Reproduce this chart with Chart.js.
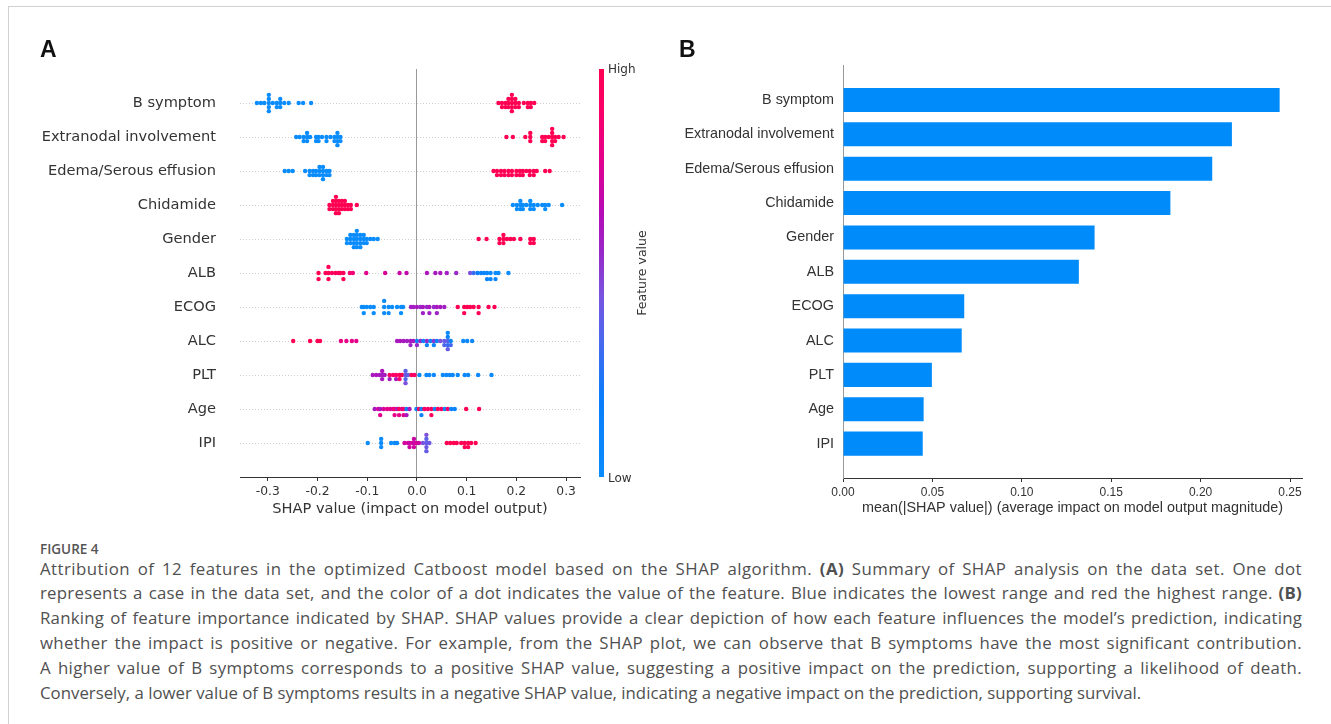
<!DOCTYPE html>
<html>
<head>
<meta charset="utf-8">
<script src="https://cdn.jsdelivr.net/npm/chart.js@4.4.1/dist/chart.umd.min.js"></script>
<style>
  html, body { margin: 0; padding: 0; background: #fff; overflow: hidden; }
  body { width: 1331px; height: 724px; position: relative; }
  .frame { position: absolute; left: 8px; top: 6px; width: 1400px; height: 800px;
           border-left: 1px solid #d0d0d0; border-top: 1px solid #d0d0d0; }
  .panel { position: absolute; top: 37.5px; font-family: "Liberation Sans", Arial, sans-serif;
           font-weight: bold; font-size: 23px; line-height: 23px; color: #111; }
  #chartA { position: absolute; left: 0; top: 0; }
  #chartB { position: absolute; left: 660px; top: 0; }
  .caption { position: absolute; left: 40px; top: 539px; width: 1262px;
             font-family: "Open Sans", sans-serif; color: #505050; }
  .fig { font-size: 13.5px; font-weight: 600; line-height: 20px; height: 17.6px; color: #555; }
  .text { font-size: 16px; }
  .line { height: 24.8px; line-height: 24.8px; white-space: nowrap; }
  .line b { font-weight: 700; }
</style>
</head>
<body>
<div class="frame"></div>
<canvas id="chartA" width="690" height="530"></canvas>
<canvas id="chartB" width="671" height="530"></canvas>
<div class="panel" style="left:40px">A</div>
<div class="panel" style="left:679px">B</div>

<div class="caption">
  <div class="fig">FIGURE 4</div>
  <div class="text">
    <div class="line"><span>Attribution of 12 features in the optimized Catboost model based on the SHAP algorithm. <b>(A)</b> Summary of SHAP analysis on the data set. One dot</span></div>
    <div class="line"><span>represents a case in the data set, and the color of a dot indicates the value of the feature. Blue indicates the lowest range and red the highest range. <b>(B)</b></span></div>
    <div class="line"><span>Ranking of feature importance indicated by SHAP. SHAP values provide a clear depiction of how each feature influences the model’s prediction, indicating</span></div>
    <div class="line"><span>whether the impact is positive or negative. For example, from the SHAP plot, we can observe that B symptoms have the most significant contribution.</span></div>
    <div class="line"><span>A higher value of B symptoms corresponds to a positive SHAP value, suggesting a positive impact on the prediction, supporting a likelihood of death.</span></div>
    <div class="line"><span>Conversely, a lower value of B symptoms results in a negative SHAP value, indicating a negative impact on the prediction, supporting survival.</span></div>
  </div>
</div>

<script>
// features, top to bottom
const features = ["B symptom", "Extranodal involvement", "Edema/Serous effusion", "Chidamide", "Gender",
  "ALB", "ECOG", "ALC", "PLT", "Age", "IPI"];

// mean(|SHAP value|) per feature (panel B)
const meanAbsShap = [0.2442, 0.2175, 0.2065, 0.1831, 0.1407, 0.1319, 0.0678, 0.0664, 0.0497, 0.0451, 0.0446];

const xTicksA = [-0.3, -0.2, -0.1, 0, 0.1, 0.2, 0.3];
const xTickLabelsA = ["-0.3", "-0.2", "-0.1", "0.0", "0.1", "0.2", "0.3"];
const xTicksB = [0, 0.05, 0.10, 0.15, 0.20, 0.25];
const xTickLabelsB = ["0.00", "0.05", "0.10", "0.15", "0.20", "0.25"];

// panel A: one [SHAP value, scaled feature value 0..1] per case
const bSymptom = [[-0.322,0],[-0.314,0],[-0.307,0],[-0.298,0],[-0.298,0],[-0.298,0],[-0.298,0],[-0.298,0],[-0.290,0],
  [-0.282,0],[-0.282,0],[-0.275,0],[-0.275,0],[-0.275,0],[-0.267,0],[-0.258,0],[-0.238,0],[-0.229,0],[-0.213,0],
  [0.164,1],[0.171,1],[0.171,1],[0.178,1],[0.178,1],[0.184,1],[0.184,1],[0.184,1],[0.191,1],[0.191,1],[0.191,1],
  [0.191,1],[0.191,1],[0.198,1],[0.198,1],[0.198,1],[0.205,1],[0.205,1],[0.215,1],[0.223,1],[0.223,1],[0.229,1],
  [0.229,1],[0.236,1]];
const extranodal = [[-0.243,0],[-0.236,0],[-0.228,0],[-0.228,0],[-0.221,0],[-0.221,0],[-0.221,0],[-0.215,0],
  [-0.203,0],[-0.203,0],[-0.198,0],[-0.198,0],[-0.191,0],[-0.182,0],[-0.182,0],[-0.174,0],[-0.166,0],[-0.166,0],
  [-0.160,0],[-0.160,0],[-0.160,0],[-0.160,0],[-0.154,0],[-0.154,0],
  [0.180,1],[0.193,1],[0.218,1],[0.228,1],[0.228,1],[0.228,1],[0.252,1],[0.252,1],[0.258,1],[0.258,1],[0.265,1],
  [0.272,1],[0.272,1],[0.272,1],[0.272,1],[0.272,1],[0.278,1],[0.278,1],[0.285,1],[0.295,1]];
const edema = [[-0.266,0],[-0.258,0],[-0.250,0],[-0.225,0],[-0.216,0],[-0.216,0],[-0.209,0],[-0.209,0],[-0.203,0],
  [-0.203,0],[-0.196,0],[-0.196,0],[-0.196,0],[-0.189,0],[-0.189,0],[-0.189,0],[-0.189,0],[-0.182,0],[-0.182,0],
  [-0.176,0],[-0.176,0],
  [0.154,1],[0.161,1],[0.161,1],[0.169,1],[0.169,1],[0.176,1],[0.176,1],[0.184,1],[0.184,1],[0.191,1],[0.191,1],
  [0.200,1],[0.200,1],[0.207,1],[0.207,1],[0.213,1],[0.213,1],[0.220,1],[0.227,1],[0.227,1],[0.235,1],[0.235,1],
  [0.241,1],[0.258,1],[0.267,1]];
const chidamide = [[-0.176,1],[-0.176,1],[-0.169,1],[-0.169,1],[-0.169,1],[-0.163,1],[-0.163,1],[-0.163,1],
  [-0.163,1],[-0.163,1],[-0.157,1],[-0.157,1],[-0.157,1],[-0.157,1],[-0.151,1],[-0.151,1],[-0.151,1],[-0.145,1],
  [-0.145,1],[-0.145,1],[-0.139,1],[-0.139,1],[-0.133,1],[-0.133,1],[-0.121,1],
  [0.193,0],[0.201,0],[0.201,0],[0.208,0],[0.208,0],[0.208,0],[0.213,0],[0.213,0],[0.220,0],[0.228,0],[0.228,0],
  [0.228,0],[0.235,0],[0.235,0],[0.243,0],[0.252,0],[0.258,0],[0.258,0],[0.265,0],[0.292,0]];
const gender = [[-0.141,0],[-0.141,0],[-0.134,0],[-0.134,0],[-0.134,0],[-0.127,0],[-0.127,0],[-0.127,0],[-0.127,0],
  [-0.121,0],[-0.121,0],[-0.121,0],[-0.121,0],[-0.121,0],[-0.114,0],[-0.114,0],[-0.114,0],[-0.114,0],[-0.107,0],
  [-0.107,0],[-0.107,0],[-0.101,0],[-0.101,0],[-0.094,0],[-0.087,0],[-0.079,0],
  [0.124,1],[0.140,1],[0.166,1],[0.166,1],[0.174,1],[0.174,1],[0.174,1],[0.181,1],[0.188,1],[0.195,1],[0.208,1],
  [0.228,1],[0.228,1],[0.235,1],[0.235,1]];
const alb = [[-0.198,1],[-0.198,1],[-0.184,0.95],[-0.178,1],[-0.178,1],[-0.178,1],[-0.171,0.95],[-0.164,1],
  [-0.158,0.92],[-0.154,1],[-0.148,0.95],[-0.148,1],[-0.135,0.88],[-0.129,0.85],[-0.102,0.78],[-0.064,0.74],
  [-0.035,0.7],[-0.021,0.68],[0.020,0.62],[0.037,0.6],[0.047,0.6],[0.060,0.58],[0.079,0.55],[0.107,0.45],
  [0.114,0.3],[0.122,0.2],[0.129,0.12],[0.135,0.08],[0.141,0.05],[0.141,0.1],[0.148,0.02],[0.148,0.05],
  [0.158,0],[0.158,0.08],[0.164,0],[0.184,0]];
const ecog = [[-0.111,0],[-0.107,0],[-0.107,0],[-0.101,0],[-0.094,0],[-0.087,0],[-0.087,0],[-0.066,0],[-0.066,0],
  [-0.066,0],[-0.057,0],[-0.057,0],[-0.050,0],[-0.040,0],[-0.032,0],[-0.032,0],[-0.028,0],
  [-0.012,0.6],[-0.007,0.58],[0.000,0.6],[0.007,0.55],[0.012,0.6],[0.012,0.58],[0.020,0.55],[0.025,0.6],
  [0.025,0.58],[0.034,0.55],[0.040,0.6],[0.040,0.57],[0.047,0.6],[0.055,0.58],
  [0.082,1],[0.095,1],[0.095,1],[0.101,1],[0.107,1],[0.114,1],[0.124,1],[0.124,1],[0.144,1],[0.156,1]];
const alc = [[-0.249,1],[-0.215,1],[-0.200,1],[-0.195,1],[-0.153,0.82],[-0.142,0.8],[-0.131,0.8],[-0.122,0.78],
  [-0.040,0.6],[-0.034,0.62],[-0.027,0.6],[-0.020,0.58],[-0.013,0.6],[-0.013,0.55],[-0.007,0.6],[0.000,0.08],
  [0.000,0.55],[0.007,0.55],[0.013,0.08],[0.020,0.55],[0.020,0.08],[0.027,0.1],[0.034,0.52],[0.034,0.08],
  [0.040,0.1],[0.047,0.45],[0.055,0.4],[0.055,0.35],[0.062,0.38],[0.062,0.3],[0.062,0.1],[0.062,0.4],
  [0.062,0.05],[0.068,0.1],[0.068,0.32],[0.093,0.05],[0.101,0.05],[0.111,0.05]];
const plt = [[-0.089,0.6],[-0.082,0.62],[-0.075,0.6],[-0.070,0.58],[-0.070,0.6],[-0.070,0.62],[-0.065,0.6],
  [-0.055,0.95],[-0.055,0.6],[-0.048,0.9],[-0.042,0.95],[-0.042,0.6],[-0.035,0.95],[-0.035,0.9],[-0.030,1],
  [-0.023,0.4],[-0.023,0.35],[-0.023,0.38],[-0.023,0.45],[-0.018,0.4],[-0.011,0.95],[-0.005,0.9],
  [0.005,0.05],[0.019,0.05],[0.025,0.05],[0.034,0.05],[0.052,0.05],[0.059,0.05],[0.066,0.05],[0.072,0.05],
  [0.082,0.05],[0.096,0.05],[0.103,0.05],[0.123,0.05],[0.150,0.05]];
const age = [[-0.085,0.6],[-0.078,0.75],[-0.074,0.6],[-0.074,0.78],[-0.067,0.75],[-0.060,0.8],[-0.054,0.78],
  [-0.048,0.75],[-0.045,0.9],[-0.045,0.8],[-0.040,0.6],[-0.036,0.95],[-0.036,0.8],[-0.030,0.75],[-0.027,0.9],
  [-0.027,0.78],[-0.021,0.1],[-0.021,0.6],[-0.015,0.6],[-0.001,0.1],[0.004,0.95],[0.009,0.1],[0.009,0.1],
  [0.015,0.95],[0.022,0.9],[0.029,0.95],[0.029,0.95],[0.036,0.1],[0.042,0.95],[0.049,0.95],[0.056,0.1],
  [0.062,0.9],[0.069,0.1],[0.076,0.1],[0.099,1],[0.125,1]];
const ipi = [[-0.099,0],[-0.072,0],[-0.072,0],[-0.072,0],[-0.052,0],[-0.045,0],[-0.040,0.05],[-0.025,0.72],
  [-0.018,0.75],[-0.015,0.7],[-0.015,0.72],[-0.009,0.75],[-0.006,0.7],[-0.006,0.72],[-0.006,0.7],[-0.001,0.75],
  [0.004,0.7],[0.012,0.45],[0.019,0.4],[0.019,0.42],[0.019,0.38],[0.019,0.4],[0.019,0.45],[0.025,0.42],
  [0.060,1],[0.067,1],[0.074,1],[0.080,1],[0.089,1],[0.096,1],[0.096,1],[0.103,1],[0.103,1],[0.109,1],[0.118,1]];

const rowsA = [bSymptom, extranodal, edema, chidamide, gender, alb, ecog, alc, plt, age, ipi];

// blue -> purple -> red, like shap's colour map
const colorStops = [
  [0.00, [10, 140, 252]], [0.20, [10, 124, 250]], [0.35, [80, 102, 236]], [0.45, [122, 82, 222]],
  [0.55, [152, 40, 200]], [0.65, [182, 10, 182]], [0.78, [228, 0, 140]], [0.90, [250, 0, 104]],
  [1.00, [255, 0, 82]]
];

function featureColor(t) {
  for (let i = 1; i < colorStops.length; i++) {
    const [t1, c1] = colorStops[i];
    const [t0, c0] = colorStops[i - 1];
    if (t <= t1) {
      const f = (t - t0) / (t1 - t0);
      return "rgb(" + c0.map((c, k) => Math.round(c + (c1[k] - c) * f)).join(",") + ")";
    }
  }
  return "rgb(255,0,82)";
}

// beeswarm offsets, same binning idea as shap's summary plot
function swarm(vals) {
  const lo = Math.min(...vals), hi = Math.max(...vals);
  const quant = vals.map(v => Math.round(100 * (v - lo) / (hi - lo + 1e-8)));
  const order = vals.map((_, k) => k).sort((a, b) => quant[a] - quant[b] || a - b);
  const ys = new Array(vals.length).fill(0);
  let layer = 0, last = -1;
  order.forEach(k => {
    if (quant[k] !== last) layer = 0;
    ys[k] = Math.ceil(layer / 2) * ((layer % 2) * 2 - 1);
    layer++;
    last = quant[k];
  });
  const top = Math.max(...ys) + 1;
  return ys.map(y => y * 0.9 * 0.4 / top);
}

const fontA = "DejaVu Sans";
const fontB = "Liberation Sans";

const colorBar = {
  id: "colorBar",
  afterDraw(chart) {
    const { ctx, chartArea: a } = chart;
    const x0 = a.right + 19, w = 5;
    const g = ctx.createLinearGradient(0, a.bottom, 0, a.top);
    colorStops.forEach(([t, c]) => g.addColorStop(t, "rgb(" + c.join(",") + ")"));
    ctx.save();
    ctx.fillStyle = g;
    ctx.fillRect(x0, a.top, w, a.bottom - a.top);
    ctx.fillStyle = "#333";
    ctx.font = "12px '" + fontA + "'";
    ctx.textBaseline = "middle";
    ctx.fillText("High", x0 + w + 4, a.top + 1);
    ctx.fillText("Low", x0 + w + 4, a.bottom + 2);
    ctx.translate(x0 + 44, (a.top + a.bottom) / 2);
    ctx.rotate(-Math.PI / 2);
    ctx.textAlign = "center";
    ctx.font = "12.5px '" + fontA + "'";
    ctx.fillText("Feature value", 0, 0);
    ctx.restore();
  }
};

// Panel A - SHAP summary (beeswarm)
new Chart(document.getElementById("chartA"), {
  type: "scatter",
  data: {
    datasets: rowsA.map((pts, i) => {
      const offs = swarm(pts.map(p => p[0]));
      return {
        label: features[i],
        data: pts.map((p, k) => ({ x: p[0], y: i + offs[k] })),
        pointBackgroundColor: pts.map(p => featureColor(p[1])),
        pointRadius: 2.2,
        pointHoverRadius: 2.2,
        pointBorderWidth: 0
      };
    })
  },
  options: {
    responsive: false,
    animation: false,
    events: [],
    layout: { padding: { left: 0, right: 110, top: 69, bottom: 0 } },
    plugins: { legend: { display: false }, tooltip: { enabled: false } },
    scales: {
      x: {
        min: -0.356,
        max: 0.328,
        afterBuildTicks: s => { s.ticks = xTicksA.map(v => ({ value: v })); },
        afterFit: s => { s.height = 53; },
        ticks: {
          callback: (v, i) => xTickLabelsA[i],
          color: "#333",
          font: { family: fontA, size: 12.3 },
          padding: 3,
          maxRotation: 0,
          autoSkip: false
        },
        grid: {
          color: c => (c.tick && c.tick.value === 0 ? "#999999" : "rgba(0,0,0,0)"),
          tickColor: "#333",
          tickLength: 4,
          lineWidth: 1
        },
        border: { color: "#333", width: 1 },
        title: {
          display: true,
          text: "SHAP value (impact on model output)",
          color: "#333",
          font: { family: fontA, size: 14.6 },
          padding: { top: 0, bottom: 12.2 }
        }
      },
      y: {
        min: -1,
        max: 11,
        reverse: true,
        afterBuildTicks: s => { s.ticks = features.map((f, i) => ({ value: i })); },
        afterFit: s => { s.width = 240; },
        ticks: {
          callback: v => features[v],
          color: "#333",
          font: { family: fontA, size: 14.6 },
          padding: 24,
          autoSkip: false
        },
        grid: { color: "#cfcfcf", lineWidth: 1, drawTicks: false },
        border: { display: false, dash: [1, 2] }
      }
    }
  },
  plugins: [colorBar]
});

// Panel B - mean |SHAP| bar chart
new Chart(document.getElementById("chartB"), {
  type: "bar",
  data: {
    datasets: [{
      data: meanAbsShap.map((v, i) => ({ x: v, y: i })),
      backgroundColor: "rgb(0, 139, 251)",
      borderWidth: 0,
      categoryPercentage: 1,
      barPercentage: 0.7
    }]
  },
  options: {
    indexAxis: "y",
    responsive: false,
    animation: false,
    events: [],
    layout: { padding: { left: 0, right: 29, top: 65.6, bottom: 0 } },
    plugins: { legend: { display: false }, tooltip: { enabled: false } },
    scales: {
      x: {
        type: "linear",
        min: 0,
        max: 0.2567,
        afterBuildTicks: s => { s.ticks = xTicksB.map(v => ({ value: v })); },
        afterFit: s => { s.height = 52; },
        ticks: {
          callback: (v, i) => xTickLabelsB[i],
          color: "#333",
          font: { family: fontB, size: 12 },
          padding: 3,
          maxRotation: 0,
          autoSkip: false
        },
        grid: { drawOnChartArea: false, tickColor: "#333", tickLength: 4 },
        border: { color: "#333", width: 1 },
        title: {
          display: true,
          text: "mean(|SHAP value|) (average impact on model output magnitude)",
          color: "#333",
          font: { family: fontB, size: 14.4 },
          padding: { top: 0, bottom: 13.4 }
        }
      },
      y: {
        type: "linear",
        min: -1,
        max: 11,
        reverse: true,
        offset: false,
        afterBuildTicks: s => { s.ticks = features.map((f, i) => ({ value: i })); },
        afterFit: s => { s.width = 183; },
        ticks: {
          callback: v => features[v],
          color: "#333",
          font: { family: fontB, size: 14.4 },
          padding: 9,
          autoSkip: false
        },
        grid: { drawOnChartArea: false, drawTicks: false, offset: false },
        border: { color: "#999", width: 1 }
      }
    }
  }
});

// caption: size the font from the last (ragged) line, spread the others to full width
function fitCaption() {
  const text = document.querySelector(".text");
  const spans = [...document.querySelectorAll(".line > span")];
  const last = spans[spans.length - 1];
  const fs = 16 * 1102 / last.getBoundingClientRect().width;
  text.style.fontSize = fs + "px";
  spans.slice(0, -1).forEach(s => {
    const gap = 1262 - s.getBoundingClientRect().width;
    const chars = s.textContent.length;
    const n = (s.textContent.match(/ /g) || []).length;
    s.style.letterSpacing = (gap * 0.5 / chars) + "px";
    s.style.wordSpacing = (gap * 0.5 / n) + "px";
  });
}
if (document.fonts && document.fonts.ready) document.fonts.ready.then(fitCaption); else fitCaption();
</script>
</body>
</html>
